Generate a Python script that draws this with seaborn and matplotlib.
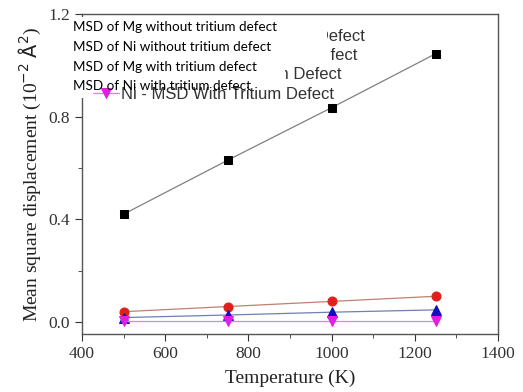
import numpy as np
import pandas as pd
import seaborn as sns
import matplotlib
matplotlib.use("Agg")
from matplotlib import pyplot as plt
from matplotlib.ticker import MultipleLocator, FormatStrFormatter
from matplotlib.patches import Rectangle

# data
temperature = [500, 750, 1000, 1250]
mg_no_defect = [0.42, 0.63, 0.835, 1.045]
ni_no_defect = [0.04, 0.06, 0.08, 0.10]
mg_defect = [0.017, 0.027, 0.038, 0.047]
ni_defect = [0.003, 0.003, 0.003, 0.003]

old_labels = ["Mg - MSD Without Tritium Defect",
              "Ni - MSD Without Tritium Defect",
              "Mg - MSD With Tritium Defect",
              "Ni - MSD With Tritium Defect"]
new_labels = ["MSD of Mg without tritium defect",
              "MSD of Ni without tritium defect",
              "MSD of Mg with tritium defect",
              "MSD of Ni with tritium defect"]

W, H = 523, 392

sns.set_style("white")
plt.rcParams['font.family'] = ['Liberation Serif', 'DejaVu Serif']

fig = plt.figure(figsize=(W / 100, H / 100), dpi=100)
ax = fig.add_axes([82 / W, 1 - 334 / H, (498 - 82) / W, (334 - 14) / H])

series = [mg_no_defect, ni_no_defect, mg_defect, ni_defect]
markers = ["s", "o", "^", "v"]
msizes = [5.5, 6.5, 6.5, 6.5]
mcolors = ["black", "#e0201c", "#1010c0", "#e020e0"]
lcolors = ["#808080", "#c08070", "#7080b0", "#e080e0"]

for vals, mk, ms, mc, lc, lab in zip(series, markers, msizes, mcolors, lcolors, old_labels):
    df = pd.DataFrame({"T": temperature, "msd": vals})
    sns.lineplot(data=df, x="T", y="msd", ax=ax, color=lc, lw=0.9,
                 marker=mk, markersize=ms, markerfacecolor=mc,
                 markeredgecolor=mc, label=lab)

ax.set_xlim(400, 1400)
ax.set_ylim(-0.047, 1.2)
ax.xaxis.set_major_locator(MultipleLocator(200))
ax.xaxis.set_minor_locator(MultipleLocator(100))
ax.yaxis.set_major_locator(MultipleLocator(0.4))
ax.yaxis.set_minor_locator(MultipleLocator(0.2))
ax.yaxis.set_major_formatter(FormatStrFormatter("%.1f"))
ax.tick_params(which="both", direction="out", bottom=True, left=True,
               colors="#333333", labelsize=12.5)
ax.tick_params(which="major", length=5)
ax.tick_params(which="minor", length=3)
for s in ax.spines.values():
    s.set_color("#555555")
    s.set_linewidth(1.0)

ax.set_xlabel("Temperature (K)", fontsize=14, color="#222222", labelpad=6)
ax.set_ylabel(r"Mean square displacement (10$^{-2}$ $\mathrm{\AA}^2$)",
              fontsize=14, color="#222222", labelpad=4)

# original legend (mostly pasted over in the reference)
leg = ax.legend(loc="upper left", bbox_to_anchor=(0.026, 0.953), frameon=False,
                prop={"family": "Liberation Sans", "size": 12},
                handlelength=1.6, handletextpad=0.1, labelspacing=0.25,
                borderaxespad=0, borderpad=0)
for t in leg.get_texts():
    t.set_color("#333333")

# white patches pasted over the old legend: (x0, x1, y0, y1) in pixels
patches = [(70, 327, 17, 42), (70, 330, 42, 62), (70, 285, 62, 82), (70, 92, 82, 98)]
for x0, x1, y0, y1 in patches:
    fig.add_artist(Rectangle((x0 / W, 1 - y1 / H), (x1 - x0) / W, (y1 - y0) / H,
                             transform=fig.transFigure, facecolor="white",
                             edgecolor="none", zorder=5))

# new labels written over it
ys = [27, 47, 67, 86]
for lab, y in zip(new_labels, ys):
    fig.text(73 / W, 1 - y / H, lab, ha="left", va="center",
             fontsize=9.7, family=["Lato", "DejaVu Sans"], color="black",
             zorder=10)

fig.savefig("out.png", dpi=100)
